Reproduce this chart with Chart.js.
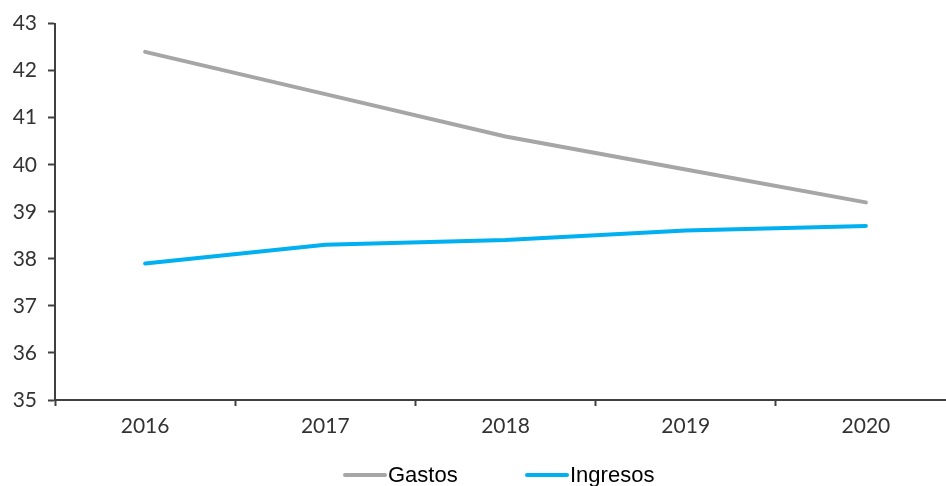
<!DOCTYPE html>
<html>
<head>
<meta charset="utf-8">
<script src="https://cdn.jsdelivr.net/npm/chart.js@4"></script>
<style>
  html, body { margin: 0; padding: 0; background: #fff; overflow: hidden; }
  #wrap { position: relative; width: 956px; height: 486px; }
</style>
</head>
<body>
<div id="wrap"><canvas id="deficitChart"></canvas></div>
<script>
// chart data
const years = ['2016', '2017', '2018', '2019', '2020'];
const gastos = [42.4, 41.5, 40.6, 39.9, 39.2];
const ingresos = [37.9, 38.3, 38.4, 38.6, 38.7];
const yMin = 35;
const yMax = 43;

const axisColor = '#404040';
const tickFont = { family: 'Lato', size: 21 };

// legend drawn under the axis, like the original
const bottomLegend = {
    id: 'bottomLegend',
    afterDraw(chart) {
        const ctx = chart.ctx;
        const starts = [343, 525];
        const y = 476;
        ctx.save();
        ctx.font = '22px "Liberation Sans", Arial, sans-serif';
        ctx.textBaseline = 'middle';
        chart.data.datasets.forEach((ds, i) => {
            const x = starts[i];
            ctx.strokeStyle = ds.borderColor;
            ctx.lineWidth = 4;
            ctx.lineCap = 'round';
            ctx.beginPath();
            ctx.moveTo(x + 2, y - 1);
            ctx.lineTo(x + 42, y - 1);
            ctx.stroke();
            ctx.fillStyle = '#000';
            ctx.fillText(ds.label, x + 45, y);
        });
        ctx.restore();
    }
};

const ctx = document.getElementById('deficitChart').getContext('2d');
const deficitChart = new Chart(ctx, {
    type: 'line',
    data: {
        labels: years,
        datasets: [{
            label: 'Gastos',
            data: gastos,
            borderColor: '#A6A6A6',
            borderWidth: 4,
            pointRadius: 0,
            tension: 0,
            borderCapStyle: 'round'
        }, {
            label: 'Ingresos',
            data: ingresos,
            borderColor: '#00B0F0',
            borderWidth: 4,
            pointRadius: 0,
            tension: 0,
            borderCapStyle: 'round'
        }]
    },
    options: {
        responsive: true,
        maintainAspectRatio: false,
        animation: false,
        layout: {
            padding: { top: 22, right: 0, bottom: 0, left: 0 }
        },
        plugins: {
            legend: { display: false },
            tooltip: { enabled: false }
        },
        scales: {
            x: {
                offset: true,
                border: { color: axisColor, width: 2 },
                grid: {
                    offset: true,
                    drawOnChartArea: false,
                    drawTicks: true,
                    tickLength: 6,
                    tickWidth: 2,
                    tickColor: axisColor
                },
                ticks: {
                    color: '#333',
                    font: tickFont,
                    padding: 8,
                    maxRotation: 0
                },
                afterFit(scale) {
                    scale.height = 86;
                }
            },
            y: {
                min: yMin,
                max: yMax,
                border: { color: axisColor, width: 2 },
                grid: {
                    drawOnChartArea: false,
                    drawTicks: true,
                    tickLength: 7,
                    tickWidth: 2,
                    tickColor: axisColor
                },
                ticks: {
                    stepSize: 1,
                    color: '#333',
                    font: tickFont,
                    padding: 11
                },
                afterFit(scale) {
                    scale.width = 55;
                }
            }
        }
    },
    plugins: [bottomLegend]
});
</script>
</body>
</html>
